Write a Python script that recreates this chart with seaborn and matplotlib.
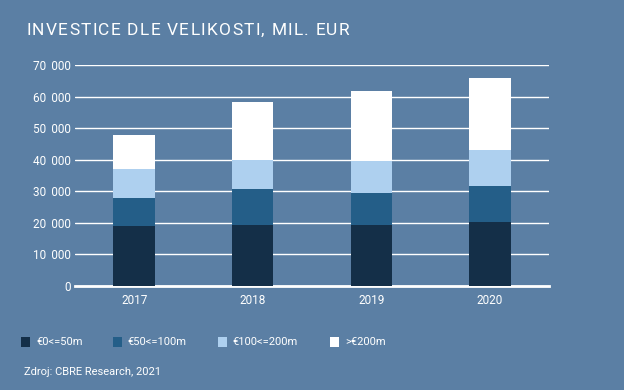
import matplotlib
matplotlib.use("Agg")
import matplotlib.pyplot as plt
import matplotlib.ticker as mticker
import pandas as pd
import seaborn as sns

# Data (mil. EUR)
years = ["2017", "2018", "2019", "2020"]
categories = ["€0<=50m", "€50<=100m", "€100<=200m", ">€200m"]
small = [19000, 19400, 19400, 20300]
mid = [8900, 11400, 10100, 11400]
large = [9100, 9200, 10100, 11500]
xlarge = [10900, 18400, 22300, 22800]

title = "INVESTICE DLE VELIKOSTI, MIL. EUR"
source = "Zdroj: CBRE Research, 2021"

colors = ["#142F48", "#245E88", "#AED0EF", "#FFFFFF"]
bg = "#5B7FA4"

df = pd.DataFrame({"Year": years, categories[0]: small, categories[1]: mid,
                   categories[2]: large, categories[3]: xlarge})

sns.set_style("white")
plt.rcParams["font.family"] = ["Roboto", "DejaVu Sans"]

fig = plt.figure(figsize=(6.24, 3.9), dpi=100, facecolor=bg)
ax = fig.add_axes([0.12, 0.2667, 0.76, 0.5654], facecolor=bg)

# stacked bars: draw cumulative totals from top layer down
cum = df[categories].cumsum(axis=1)
for cat, col in reversed(list(zip(categories, colors))):
    sns.barplot(x=df["Year"], y=cum[cat], color=col, width=0.35,
                saturation=1, ax=ax, zorder=3, linewidth=0)

ax.set_ylim(0, 70000)
ax.set_xlim(-0.5, 3.5)
ax.yaxis.set_major_locator(mticker.MultipleLocator(10000))
ax.yaxis.set_major_formatter(mticker.FuncFormatter(
    lambda v, p: f"{int(v):,}".replace(",", "\u2009 ")))
ax.grid(axis="y", color="white", linewidth=1, zorder=1)
ax.set_axisbelow(True)
for s in ["top", "right", "left"]:
    ax.spines[s].set_visible(False)
ax.spines["bottom"].set_color("white")
ax.spines["bottom"].set_linewidth(2)
ax.spines["bottom"].set_zorder(2)
ax.tick_params(axis="both", length=0, colors="white", labelsize=8.5)
ax.tick_params(axis="y", pad=3)
ax.tick_params(axis="x", pad=6)
ax.set_xlabel("")
ax.set_ylabel("")

# letter-spaced title, drawn char by char
renderer = fig.canvas.get_renderer()
x_px = 26
for ch in title:
    t = fig.text(x_px / 624, 0.922, ch, color="white", fontsize=12.5,
                 va="center", ha="left")
    w = t.get_window_extent(renderer).width if ch != " " else 4.0
    x_px += w + 1.3

x_pos = [0.034, 0.181, 0.349, 0.529]
for h_col, lab, xp in zip(colors, categories, x_pos):
    fig.patches.append(plt.Rectangle((xp, 0.109), 0.0145, 0.026,
                                     transform=fig.transFigure,
                                     facecolor=h_col, edgecolor="none"))
    fig.text(xp + 0.024, 0.123, lab, color="white", fontsize=8, va="center")

fig.text(0.038, 0.046, source, color="white", fontsize=8, va="center")

fig.savefig("out.png", dpi=100, facecolor=bg)
